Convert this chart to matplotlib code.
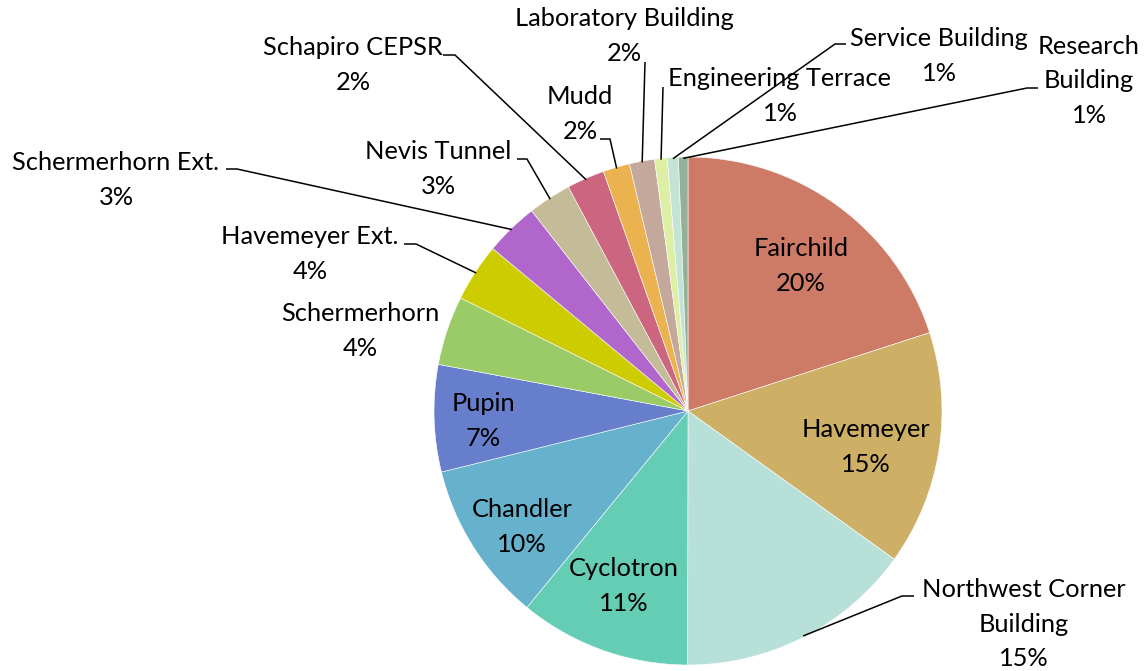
import numpy as np
import matplotlib.pyplot as plt

plt.rcParams['font.family'] = ['Lato', 'DejaVu Sans']

buildings = ['Fairchild', 'Havemeyer', 'Northwest Corner Building', 'Cyclotron',
             'Chandler', 'Pupin', 'Schermerhorn', 'Havemeyer Ext.',
             'Schermerhorn Ext.', 'Nevis Tunnel', 'Schapiro CEPSR', 'Mudd',
             'Laboratory Building', 'Engineering Terrace', 'Service Building',
             'Research Building']
shares = [20.0, 14.9, 15.1, 10.9, 10.2, 6.8, 4.4, 3.7, 3.4, 2.75, 2.4, 1.7,
          1.6, 0.8, 0.7, 0.6]
colors = ['#CD7B67', '#CDAF66', '#B7E0D8', '#66CDB5', '#66B1CB', '#667ECC',
          '#9ACB67', '#CDCC00', '#B066CA', '#C4BB98', '#CC6680', '#EAB350',
          '#C4A89C', '#DDEEA5', '#C4E3D7', '#93B099']

W, H = 1148, 671
cx, cy, R = 688, 411, 254

fig = plt.figure(figsize=(W / 100, H / 100), dpi=100)
ax = fig.add_axes([0, 0, 1, 1])
wedges, _ = ax.pie(shares, colors=colors, startangle=90, counterclock=False,
                   center=(cx, H - cy), radius=R,
                   wedgeprops=dict(edgecolor='white', linewidth=0.4))
ax.set_xlim(0, W)
ax.set_ylim(0, H)
ax.set_aspect('equal')
ax.axis('off')

total = sum(shares)
pct = [f'{round(v / total * 100):.0f}%' for v in shares]

fs = 18.3
ls = 1.6


def edge_point(w, frac=1.0):
    t = np.deg2rad((w.theta1 + w.theta2) / 2)
    return cx + frac * R * np.cos(t), (H - cy) + frac * R * np.sin(t)


# label layout: block centre (px, from top), label text, leader path (px)
layout = {
    'Fairchild': ((801, 266), 'Fairchild', None),
    'Havemeyer': ((866, 447), 'Havemeyer', None),
    'Cyclotron': ((624, 586), 'Cyclotron', None),
    'Chandler': ((522, 527), 'Chandler', None),
    'Pupin': ((483, 421), 'Pupin', None),
    'Northwest Corner Building': ((1024, 624), 'Northwest Corner\nBuilding',
                                  [(914, 596), (902, 596)]),
    'Schermerhorn': ((360, 331), 'Schermerhorn', None),
    'Havemeyer Ext.': ((310, 254), 'Havemeyer Ext.', [(404, 244), (416, 244)]),
    'Schermerhorn Ext.': ((116, 180), 'Schermerhorn Ext.', [(226, 169), (237, 169)]),
    'Nevis Tunnel': ((438, 169), 'Nevis Tunnel', [(517, 159), (527, 159)]),
    'Schapiro CEPSR': ((353, 65), 'Schapiro CEPSR', [(443, 55), (455, 55)]),
    'Mudd': ((580, 114), 'Mudd', [(600, 139), (610, 139)]),
    'Laboratory Building': ((624, 36), 'Laboratory Building', [(645, 62)]),
    'Engineering Terrace': ((780, 96), 'Engineering Terrace', [(663, 87)]),
    'Service Building': ((939, 56), 'Service Building', [(846, 44), (835, 44)]),
    'Research Building': ((1089, 81), 'Research\nBuilding', [(1038, 88), (1027, 88)]),
}
for name, (pos, txt, path) in layout.items():
    i = buildings.index(name)
    ax.text(pos[0], H - pos[1], f'{txt}\n{pct[i]}', ha='center', va='center',
            fontsize=fs, linespacing=ls)
    if path:
        ex, ey = edge_point(wedges[i], 0.995)
        xs = [p[0] for p in path] + [ex]
        ys = [H - p[1] for p in path] + [ey]
        ax.plot(xs, ys, color='black', lw=1.1, solid_capstyle='butt')

fig.savefig('out.png', dpi=100)
